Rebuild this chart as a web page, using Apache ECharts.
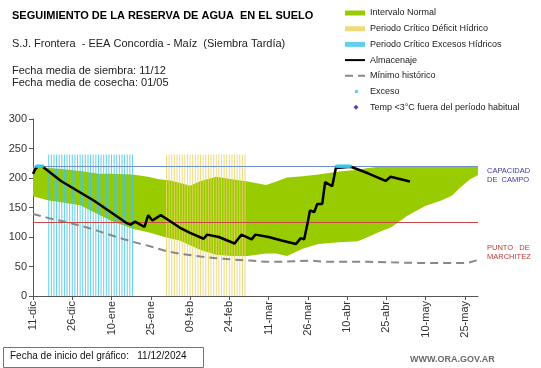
<!DOCTYPE html>
<html><head><meta charset="utf-8">
<script src="https://cdn.jsdelivr.net/npm/echarts@6/dist/echarts.min.js"></script>
<style>html,body{margin:0;padding:0;background:#fff}#c{width:541px;height:368px}</style>
</head><body><div id="c"></div>
<script>
// Días desde 11-dic-2024
const tickDias = [0,15,30,45,60,75,90,105,120,135,150,165];
const tickEtiquetas = ['11-dic','26-dic','10-ene','25-ene','09-feb','24-feb','11-mar','26-mar','10-abr','25-abr','10-may','25-may'];

const bandaDias = [0,6,12,18,25,30,38,44,48,52,56,60,64,70,76,82,89,93,97,103,109,117,124,128,132,137,143,150,156,160,163,167,170];
const bandaInf  = [169,162,158,154,138,127,114,108,103,98,94,86,78,70,68,68,72,72,68,80,88,91,93,100,108,117,136,153,162,170,183,198,205];
const bandaSup  = [218,217,215,212,207,207,206,202,198,196,192,187,195,202,198,194,188,194,201,203,206,211,214,217,219,220,220,220,220,220,220,220,220];

const minimoHist = [[0,139],[6,132],[13,125],[20,117],[25,110],[32,100],[38,92],[45,84],[51,76],[57,71],[64,67],[70,64],[76,62],[83,60],[89,58],[95,58],[100,59],[106,60],[112,58],[120,58],[128,58],[137,57],[147,56],[157,56],[166,56],[170,61]];

const almacenaje = [[0,207],[1,216],[2,220],[3.5,220],[10.7,195],[23.5,161],[36,123],[37.3,121],[39,126],[42.6,117],[44,137],[45.6,128],[48.8,137],[52,128],[56,116],[60,107],[65.2,97],[66.5,104],[71,100],[77,89],[79.6,104],[83.5,96],[85,104],[90,100],[95,94],[100.4,88],[102.3,98],[103.6,96],[105,126],[105.8,145],[107.4,142],[108.6,156],[110.5,156],[111.6,193],[114.3,186],[115.7,217],[116.2,219],[121.4,219],[128,208],[134.7,195],[136.6,202],[144,194]];

const excesoDias = [1.5,2,2.5,3,3.5,116,116.5,117,117.5,118,118.5,119,119.5,120,120.5,121];
const excesoValor = 220;

const excesosHidricosDias = [6,7,8,9,10,11,12,13,14,15,16,17,18,19,20,21,22,23,24,25,26,27,28,29,30,31,32,33,34,35,36,37,38];
const deficitHidricoDias = [51,52,53,54,55,56,57,58,59,60,61,62,63,64,65,66,67,68,69,70,71,72,73,74,75,76,77,78,79,80,81];
const topeFranjas = 240;

const capacidadCampo = 220;
const puntoMarchitez = 125;

const F = 'Liberation Sans, Arial, sans-serif';
const chart = echarts.init(document.getElementById('c'), null, {renderer:'canvas'});

const BOX = 'M0,0h.01v.01h-.01zM20,5h-.01v-.01h.01z';

chart.setOption({
  animation:false,
  textStyle:{fontFamily:F},
  grid:{left:33,right:63,top:119,bottom:72,containLabel:false,outerBoundsMode:'none'},
  legend:{
    left:344, top:8, padding:0, orient:'vertical', itemWidth:20, itemHeight:5, itemGap:5.7,
    selectedMode:false,
    textStyle:{fontSize:9, color:'#222', lineHeight:10, fontFamily:F},
    data:[
      {name:'Intervalo Normal', icon:'rect'},
      {name:'Periodo Crítico Déficit Hídrico', icon:'rect'},
      {name:'Periodo Crítico Excesos Hídricos', icon:'rect'},
      {name:'Almacenaje', itemStyle:{opacity:0}},
      {name:'Mínimo histórico', itemStyle:{opacity:0}},
      {name:'Exceso', icon:'path://'+BOX+'M10,1h3v3h-3z'},
      {name:'Temp <3°C fuera del período habitual', icon:'path://'+BOX+'M11,0L13.5,2.5L11,5L8.5,2.5Z'}
    ]
  },
  xAxis:{
    type:'value', min:0, max:170,
    axisLine:{show:true, lineStyle:{color:'#555'}},
    axisTick:{show:true, length:4, lineStyle:{color:'#555'}, customValues:tickDias},
    axisLabel:{rotate:90, fontSize:11, color:'#333', margin:5, customValues:tickDias,
      formatter:(v)=>{const i=tickDias.indexOf(v);return i>=0?tickEtiquetas[i]:'';}},
    splitLine:{show:false}
  },
  yAxis:{
    type:'value', min:0, max:300, interval:50,
    name:'Milímetros', nameLocation:'middle', nameRotate:90, nameGap:23,
    nameTextStyle:{fontSize:7, color:'#333'},
    axisLine:{show:true, lineStyle:{color:'#555'}},
    axisTick:{show:true, length:4, lineStyle:{color:'#555'}},
    axisLabel:{fontSize:11, color:'#333', margin:6},
    splitLine:{show:false}
  },
  series:[
    {name:'Intervalo Normal', type:'custom', silent:true, z:1,
     itemStyle:{color:'#99cc00'},
     data:bandaDias.map((d,i)=>[d,bandaInf[i],bandaSup[i]]),
     renderItem:(params, api)=>{
       if (params.dataIndex !== 0) return null;
       const up = bandaDias.map((d,i)=>api.coord([d,bandaSup[i]]));
       const lo = bandaDias.map((d,i)=>api.coord([d,bandaInf[i]])).reverse();
       return {type:'polygon', shape:{points:up.concat(lo)}, style:{fill:'#99cc00'}};
     }},
    {name:'Periodo Crítico Excesos Hídricos', type:'bar', barWidth:1, barGap:'-100%',
     itemStyle:{color:'#3cc3e6', opacity:0.8},
     data:excesosHidricosDias.map(d=>[d,topeFranjas]), z:2},
    {name:'Periodo Crítico Déficit Hídrico', type:'bar', barWidth:1, barGap:'-100%',
     itemStyle:{color:'#ecd466', opacity:0.85},
     data:deficitHidricoDias.map(d=>[d,topeFranjas]), z:2},
    {name:'Mínimo histórico', type:'line', symbol:'none', itemStyle:{color:'#888'},
     lineStyle:{color:'#888', width:2, type:[8,5]}, data:minimoHist, z:3},
    {name:'limites', type:'line', symbol:'none', data:[], z:3,
     markLine:{silent:true, symbol:'none', label:{show:false},
       data:[
         [{coord:[0,capacidadCampo],lineStyle:{color:'#6f8fc8',width:1,type:'solid'}},{coord:[170,capacidadCampo]}],
         [{coord:[0,puntoMarchitez],lineStyle:{color:'#c84848',width:1,type:'solid'}},{coord:[170,puntoMarchitez]}]
       ]}},
    {name:'Almacenaje', type:'line', symbol:'none', itemStyle:{color:'#000'},
     lineStyle:{color:'#000', width:2.5}, data:almacenaje, z:5},
    {name:'Exceso', type:'scatter', symbol:'rect', symbolSize:[4,3],
     itemStyle:{color:'#33ccee'}, data:excesoDias.map(d=>[d,excesoValor]), z:6},
    {name:'Temp <3°C fuera del período habitual', type:'scatter', symbol:'diamond', symbolSize:6,
     itemStyle:{color:'#1a1aa8'}, data:[], z:6}
  ],
  graphic:[
    {type:'text', left:12, top:10, style:{text:'SEGUIMIENTO DE LA RESERVA DE AGUA  EN EL SUELO', font:'bold 11px '+F, fill:'#000'}},
    {type:'text', left:12, top:38, style:{text:'S.J. Frontera  - EEA Concordia - Maíz  (Siembra Tardía)', font:'11px '+F, fill:'#222'}},
    {type:'text', left:12, top:65, style:{text:'Fecha media de siembra: 11/12', font:'11px '+F, fill:'#222'}},
    {type:'text', left:12, top:77, style:{text:'Fecha media de cosecha: 01/05', font:'11px '+F, fill:'#222'}},
    {type:'text', left:487, top:166, style:{text:'CAPACIDAD\nDE  CAMPO', font:'7.5px '+F, fill:'#3a3aa0', lineHeight:9}},
    {type:'text', left:487, top:243, style:{text:'PUNTO   DE\nMARCHITEZ', font:'7.5px '+F, fill:'#c03838', lineHeight:9}},
    {type:'rect', left:3, top:347, shape:{width:200,height:20}, style:{fill:'#fff', stroke:'#8a6a6a', lineWidth:1}},
    {type:'text', left:10, top:351, style:{text:'Fecha de inicio del gráfico:   11/12/2024', font:'10px '+F, fill:'#111'}},
    {type:'text', left:410, top:355, style:{text:'WWW.ORA.GOV.AR', font:'bold 9px '+F, fill:'#6a6a6a'}}
  ]
});
</script></body></html>
